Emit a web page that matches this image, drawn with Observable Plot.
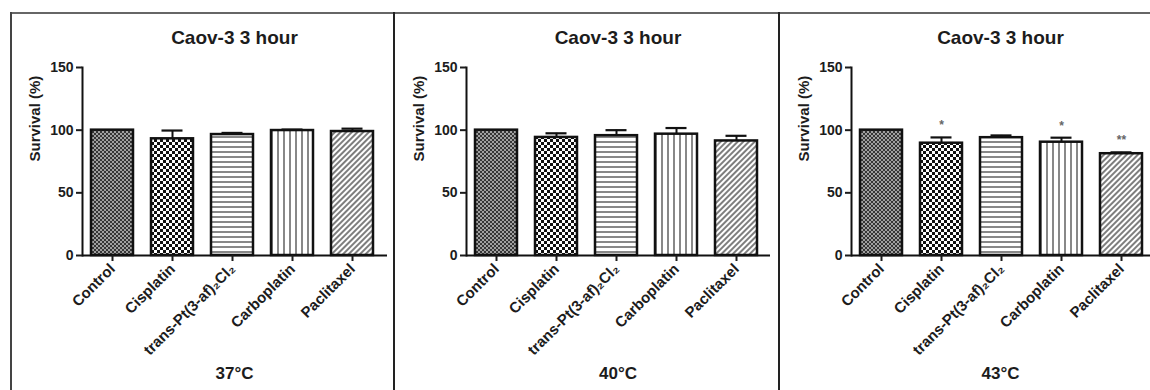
<!DOCTYPE html>
<html><head><meta charset="utf-8">
<script src="https://cdn.jsdelivr.net/npm/d3@7"></script>
<script src="https://cdn.jsdelivr.net/npm/@observablehq/plot@0.6"></script>
<style>
body{margin:0;background:#fff;}
#wrap{position:relative;width:1150px;height:390px;overflow:hidden;font-family:"Liberation Sans",Arial,sans-serif;color:#1c1c1c;background:#fff;}
.panel{position:absolute;top:13px;height:377px;}
.panel svg{position:absolute;left:0;top:0;}
.ttl{position:absolute;text-align:center;font-weight:bold;font-size:19px;line-height:19px;white-space:nowrap;}
.temp{position:absolute;text-align:center;font-weight:bold;font-size:17px;line-height:17px;white-space:nowrap;}
.line{position:absolute;background:#333;z-index:5;}
</style>
</head><body>
<div id="wrap"></div>
<script>
const categories = ["Control", "Cisplatin", "trans-Pt(3-af)\u2082Cl\u2082", "Carboplatin", "Paclitaxel"];
const panelTitle = "Caov-3 3 hour";
const yLabel = "Survival (%)";
const temperatures = ["37\u00B0C", "40\u00B0C", "43\u00B0C"];
const yTicks = [0, 50, 100, 150];

const survival37 = [100, 93.1, 96.5, 99.7, 98.9];
const error37    = [0, 6.6, 1.3, 0.8, 2.3];
const signif37   = ["", "", "", "", ""];

const survival40 = [100, 94.2, 95.6, 96.8, 91.4];
const error40    = [0, 3.3, 4.4, 4.9, 4.1];
const signif40   = ["", "", "", "", ""];

const survival43 = [100, 89.6, 94.0, 90.4, 81.2];
const error43    = [0, 4.6, 1.8, 3.6, 1.1];
const signif43   = ["", "*", "", "*", "**"];

const patternIds = ["pat-control", "pat-cis", "pat-trans", "pat-carbo", "pat-pacli"];

// shared pattern definitions
const defsSvg = d3.select("body").append("svg").attr("width", 0).attr("height", 0)
  .style("position", "absolute").style("left", 0).style("top", 0);
const defs = defsSvg.append("defs");
{
  const p = defs.append("pattern").attr("id", "pat-control").attr("patternUnits", "userSpaceOnUse").attr("width", 4).attr("height", 4);
  p.append("rect").attr("width", 4).attr("height", 4).attr("fill", "#a0a0a0");
  p.append("rect").attr("width", 2).attr("height", 2).attr("fill", "#363636");
  p.append("rect").attr("x", 2).attr("y", 2).attr("width", 2).attr("height", 2).attr("fill", "#363636");
}
{
  const p = defs.append("pattern").attr("id", "pat-cis").attr("patternUnits", "userSpaceOnUse").attr("width", 6).attr("height", 6);
  p.append("rect").attr("width", 6).attr("height", 6).attr("fill", "#fff");
  p.append("rect").attr("width", 3).attr("height", 3).attr("fill", "#111");
  p.append("rect").attr("x", 3).attr("y", 3).attr("width", 3).attr("height", 3).attr("fill", "#111");
}
{
  const p = defs.append("pattern").attr("id", "pat-trans").attr("patternUnits", "userSpaceOnUse").attr("width", 5).attr("height", 5);
  p.append("rect").attr("width", 5).attr("height", 5).attr("fill", "#fff");
  p.append("rect").attr("y", 3).attr("width", 5).attr("height", 2).attr("fill", "#888");
}
{
  const p = defs.append("pattern").attr("id", "pat-carbo").attr("patternUnits", "userSpaceOnUse").attr("width", 6).attr("height", 6);
  p.append("rect").attr("width", 6).attr("height", 6).attr("fill", "#fff");
  p.append("rect").attr("x", 3).attr("width", 2).attr("height", 6).attr("fill", "#888");
}
{
  const p = defs.append("pattern").attr("id", "pat-pacli").attr("patternUnits", "userSpaceOnUse").attr("width", 4).attr("height", 4).attr("patternTransform", "rotate(45)");
  p.append("rect").attr("width", 4).attr("height", 4).attr("fill", "#fff");
  p.append("rect").attr("x", 1).attr("width", 2).attr("height", 4).attr("fill", "#7e7e7e");
}

const panelData = [
  {values: survival37, errors: error37, signif: signif37, temp: temperatures[0]},
  {values: survival40, errors: error40, signif: signif40, temp: temperatures[1]},
  {values: survival43, errors: error43, signif: signif43, temp: temperatures[2]}
];
const lefts = [10, 394, 779];
const rights = [394, 779, 1150];
const marginRights = [7, 9, 0];
const ML = 72, MT = 54, MB = 135, H = 377;

const wrap = d3.select("#wrap");

panelData.forEach((pd, i) => {
  const W = rights[i] - lefts[i];
  const rows = categories.map((c, j) => ({category: c, value: pd.values[j], err: pd.errors[j], sig: pd.signif[j]}));
  const errRows = rows.filter(d => d.err > 0);
  const sigRows = rows.filter(d => d.sig);
  const plot = Plot.plot({
    width: W,
    height: H,
    marginLeft: ML,
    marginRight: marginRights[i],
    marginTop: MT,
    marginBottom: MB,
    style: {fontFamily: "'Liberation Sans', Arial, sans-serif", fontSize: "14px", fontWeight: "bold", color: "#1c1c1c", background: "transparent", overflow: "visible"},
    x: {domain: categories, range: [ML, ML + 300], paddingInner: 0.3, paddingOuter: 0.15},
    y: {domain: [0, 150]},
    color: {type: "ordinal", domain: categories, range: patternIds.map(id => `url(#${id})`)},
    marks: [
      Plot.barY(rows, {x: "category", y: "value", fill: "category", stroke: "#111", strokeWidth: 2.5}),
      Plot.ruleX(errRows, {x: "category", y1: "value", y2: d => d.value + d.err, stroke: "#111", strokeWidth: 2}),
      Plot.tickY(errRows, {x: "category", y: d => d.value + d.err, stroke: "#111", strokeWidth: 2.2, insetLeft: 10.5, insetRight: 10.5}),
      Plot.text(sigRows, {x: "category", y: d => d.value + d.err, text: "sig", dy: -12, fontSize: 12, fill: "#666"}),
      Plot.ruleY([0], {stroke: "#111", strokeWidth: 2}),
      Plot.frame({anchor: "left", stroke: "#111", strokeWidth: 2}),
      Plot.axisY({ticks: yTicks, tickSize: 6, tickPadding: 3, label: null, strokeWidth: 2, fontSize: 14, fontWeight: "bold"}),
      Plot.axisX({tickRotate: -45, tickSize: 6, tickPadding: 5, label: null, strokeWidth: 2, fontSize: 15, fontWeight: "bold"}),
      Plot.text([yLabel], {frameAnchor: "left", dx: -47, rotate: -90, fontSize: 15, fontWeight: "bold", text: d => d})
    ]
  });
  const panel = wrap.append("div").attr("class", "panel").style("left", lefts[i] + "px").style("width", W + "px");
  panel.node().appendChild(plot);
  const frameCenter = ML + (W - marginRights[i] - ML) / 2;
  panel.append("div").attr("class", "ttl").style("left", (frameCenter - 100) + "px").style("width", "200px").style("top", "15px").text(panelTitle);
  panel.append("div").attr("class", "temp").style("left", (frameCenter - 60) + "px").style("width", "120px").style("top", "352px").text(pd.temp);
});

// panel borders
wrap.append("div").attr("class", "line").style("left", "10px").style("top", "12px").style("width", "1140px").style("height", "2px").style("background", "#666");
wrap.append("div").attr("class", "line").style("left", "10px").style("top", "12px").style("width", "1.5px").style("height", "378px").style("background", "#444");
wrap.append("div").attr("class", "line").style("left", "393px").style("top", "12px").style("width", "2px").style("height", "378px").style("background", "#222");
wrap.append("div").attr("class", "line").style("left", "778px").style("top", "12px").style("width", "2px").style("height", "378px").style("background", "#222");
</script>
</body></html>
